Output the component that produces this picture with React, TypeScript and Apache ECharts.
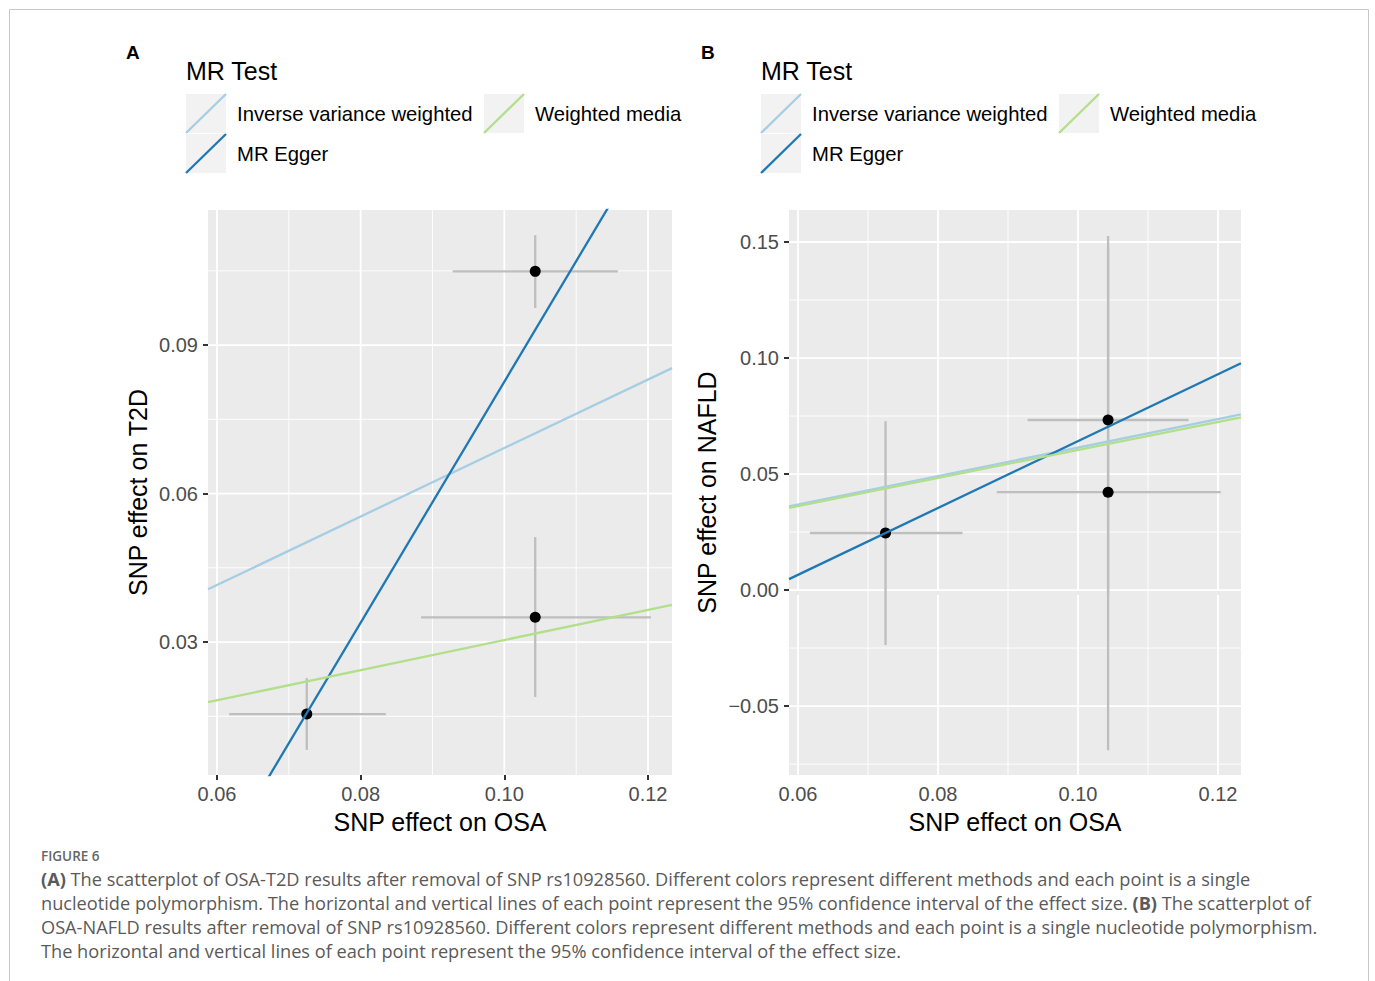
import React, { useEffect, useRef } from "react";
import * as echarts from "echarts";

// ---------- data ----------
const methods = ["Inverse variance weighted", "MR Egger", "Weighted median"];
const methodColors = ["#A6CEE3", "#1F78B4", "#B2DF8A"];

// SNP effects on the exposure (OSA) with 95% CI
const osaBeta = [0.0725, 0.1043, 0.1043];
const osaLo = [0.0617, 0.0928, 0.0884];
const osaHi = [0.0835, 0.1158, 0.1204];

// Panel A: SNP effects on T2D
const t2dBeta = [0.01545, 0.1049, 0.035];
const t2dLo = [0.0082, 0.0975, 0.0189];
const t2dHi = [0.0227, 0.1122, 0.0512];

// Panel B: SNP effects on NAFLD
const nafldBeta = [0.0246, 0.0733, 0.0422];
const nafldLo = [-0.0237, -0.002, -0.069];
const nafldHi = [0.0728, 0.148, 0.1526];

// MR estimates (slope, intercept) per method
const slopesA = [0.692, 2.435, 0.304];
const interceptsA = [0, -0.1609, 0];
const slopesB = [0.614, 1.441, 0.604];
const interceptsB = [0, -0.0799, 0];

// axis ticks
const xTicks = [0.06, 0.08, 0.1, 0.12];
const xMinor = [0.07, 0.09, 0.11];
const yTicksA = [0.03, 0.06, 0.09];
const yMinorA = [0.015, 0.045, 0.075, 0.105];
const yTicksB = [-0.05, 0, 0.05, 0.1, 0.15];
const yMinorB = [-0.075, -0.025, 0.025, 0.075, 0.125];

const xRangeA = [0.05875, 0.12334];
const yRangeA = [0.00313, 0.1173];
const xRangeB = [0.05871, 0.12329];
const yRangeB = [-0.0797, 0.1638];

const captionLines = [
  "{b|(A)} The scatterplot of OSA-T2D results after removal of SNP rs10928560. Different colors represent different methods and each point is a single",
  "nucleotide polymorphism. The horizontal and vertical lines of each point represent the 95% confidence interval of the effect size. {b|(B)} The scatterplot of",
  "OSA-NAFLD results after removal of SNP rs10928560. Different colors represent different methods and each point is a single nucleotide polymorphism.",
  "The horizontal and vertical lines of each point represent the 95% confidence interval of the effect size.",
];

const FONT = "'Liberation Sans', Arial, Helvetica, sans-serif";
const CAPFONT = "'Open Sans', Lato, sans-serif";

function fmt(v: number) {
  const s = Math.abs(v).toFixed(2);
  return v < -1e-9 ? "\u2212" + s : s;
}

function buildPanel(
  gi: number,
  xr: number[],
  yr: number[],
  yTicks: number[],
  yMinor: number[],
  yBeta: number[],
  yLo: number[],
  yHi: number[],
  slopes: number[],
  intercepts: number[]
) {
  const xMid = (xr[0] + xr[1]) / 2;
  const yMid = (yr[0] + yr[1]) / 2;
  const gridData: number[][] = [];
  xMinor.forEach((v) => gridData.push([v, yMid, 1]));
  yMinor.forEach((v) => gridData.push([xMid, v, 3]));
  xTicks.forEach((v) => gridData.push([v, yMid, 0]));
  yTicks.forEach((v) => gridData.push([xMid, v, 2]));

  const series: any[] = [];
  series.push({
    type: "custom",
    xAxisIndex: gi,
    yAxisIndex: gi,
    silent: true,
    z: 1,
    data: gridData,
    renderItem: (params: any, api: any) => {
      const cs = params.coordSys;
      const kind = api.value(2);
      const p = api.coord([api.value(0), api.value(1)]);
      const lw = kind === 0 || kind === 2 ? 1.8 : 0.9;
      if (kind < 2) {
        return {
          type: "line",
          shape: { x1: p[0], y1: cs.y, x2: p[0], y2: cs.y + cs.height },
          style: { stroke: "#FFFFFF", lineWidth: lw },
        };
      }
      return {
        type: "line",
        shape: { x1: cs.x, y1: p[1], x2: cs.x + cs.width, y2: p[1] },
        style: { stroke: "#FFFFFF", lineWidth: lw },
      };
    },
  });

  series.push({
    type: "custom",
    xAxisIndex: gi,
    yAxisIndex: gi,
    silent: true,
    z: 2,
    data: osaBeta.map((x, i) => [x, yBeta[i], osaLo[i], osaHi[i], yLo[i], yHi[i]]),
    renderItem: (params: any, api: any) => {
      const x = api.value(0);
      const y = api.value(1);
      const a = api.coord([api.value(2), y]);
      const b = api.coord([api.value(3), y]);
      const c = api.coord([x, api.value(4)]);
      const d = api.coord([x, api.value(5)]);
      const st = { stroke: "#BEBEBE", lineWidth: 2.3 };
      return {
        type: "group",
        children: [
          { type: "line", shape: { x1: a[0], y1: a[1], x2: b[0], y2: b[1] }, style: st },
          { type: "line", shape: { x1: c[0], y1: c[1], x2: d[0], y2: d[1] }, style: st },
        ],
      };
    },
  });

  series.push({
    type: "scatter",
    xAxisIndex: gi,
    yAxisIndex: gi,
    silent: true,
    z: 3,
    symbol: "circle",
    symbolSize: 11,
    itemStyle: { color: "#000000", opacity: 1 },
    data: osaBeta.map((x, i) => [x, yBeta[i]]),
  });

  methods.forEach((m, k) => {
    series.push({
      type: "line",
      name: m,
      xAxisIndex: gi,
      yAxisIndex: gi,
      silent: true,
      z: 4,
      clip: true,
      symbol: "none",
      showSymbol: false,
      lineStyle: { color: methodColors[k], width: 2.3 },
      data: [
        [xr[0], intercepts[k] + slopes[k] * xr[0]],
        [xr[1], intercepts[k] + slopes[k] * xr[1]],
      ],
    });
  });
  return series;
}

function legendGraphics(letter: string, dx: number, clipW: number) {
  const els: any[] = [];
  els.push({
    type: "text",
    x: 126 + dx,
    y: 52,
    style: { text: letter, font: `bold 19px ${FONT}`, fill: "#000", verticalAlign: "middle", align: "left" },
  });
  els.push({
    type: "text",
    x: 186 + dx,
    y: 71,
    style: { text: "MR Test", font: `25px ${FONT}`, fill: "#000", verticalAlign: "middle", align: "left" },
  });
  const keyPos = [
    [186, 94],
    [186, 134],
    [484, 94],
  ];
  methods.forEach((m, k) => {
    const kx = keyPos[k][0] + dx;
    const ky = keyPos[k][1];
    els.push({ type: "rect", shape: { x: kx, y: ky, width: 40, height: 39 }, style: { fill: "#F2F2F2" } });
    els.push({
      type: "line",
      shape: { x1: kx, y1: ky + 39, x2: kx + 40, y2: ky },
      style: { stroke: methodColors[k], lineWidth: 2.3 },
    });
    const textStyle: any = {
      text: m,
      font: `20.3px ${FONT}`,
      fill: "#000",
      verticalAlign: "middle",
      align: "left",
    };
    if (k === 2) {
      textStyle.width = clipW;
      textStyle.overflow = "truncate";
      textStyle.ellipsis = "";
    }
    els.push({ type: "text", x: kx + 51, y: ky + 20, style: textStyle });
  });
  return els;
}

function makeXAxis(gi: number, xr: number[]) {
  return {
    type: "value",
    gridIndex: gi,
    min: xr[0],
    max: xr[1],
    name: "SNP effect on OSA",
    nameLocation: "middle",
    nameGap: 34,
    nameTextStyle: { fontFamily: FONT, fontSize: 25, color: "#000" },
    axisLine: { show: false },
    splitLine: { show: false },
    axisTick: { show: true, customValues: xTicks, length: 5, lineStyle: { color: "#333333", width: 2 } },
    axisLabel: {
      customValues: xTicks,
      formatter: (v: number) => fmt(v),
      fontFamily: FONT,
      fontSize: 20,
      color: "#4D4D4D",
      margin: 9,
    },
  };
}

function makeYAxis(gi: number, yr: number[], ticks: number[], name: string, gap: number) {
  return {
    type: "value",
    gridIndex: gi,
    min: yr[0],
    max: yr[1],
    name,
    nameLocation: "middle",
    nameGap: gap,
    nameTextStyle: { fontFamily: FONT, fontSize: 25, color: "#000" },
    axisLine: { show: false },
    splitLine: { show: false },
    axisTick: { show: true, customValues: ticks, length: 5, lineStyle: { color: "#333333", width: 2 } },
    axisLabel: {
      customValues: ticks,
      formatter: (v: number) => fmt(v),
      fontFamily: FONT,
      fontSize: 20,
      color: "#4D4D4D",
      margin: 10,
    },
  };
}

export default function App() {
  const ref = useRef<HTMLDivElement>(null);
  useEffect(() => {
    document.body.style.margin = "0";
    const chart = echarts.init(ref.current!, null, { renderer: "svg" });
    const graphics: any[] = [];
    graphics.push({
      type: "polyline",
      shape: {
        points: [
          [9.5, 981],
          [9.5, 9.5],
          [1368.5, 9.5],
          [1368.5, 981],
        ],
      },
      style: { stroke: "#C8C8C8", lineWidth: 1, fill: "none" },
    });
    graphics.push(...legendGraphics("A", 0, 150));
    graphics.push(...legendGraphics("B", 575, 152));
    graphics.push({
      type: "text",
      x: 41,
      y: 856,
      style: {
        text: "FIGURE 6",
        font: `600 13.5px ${CAPFONT}`,
        fill: "#666666",
        verticalAlign: "middle",
        align: "left",
      },
    });
    captionLines.forEach((t, i) => {
      graphics.push({
        type: "text",
        x: 41,
        y: 879 + i * 24,
        style: {
          text: t,
          fontFamily: CAPFONT,
          fontSize: 18.2,
          fill: "#5A5A5A",
          verticalAlign: "middle",
          align: "left",
          rich: {
            b: { fontFamily: CAPFONT, fontSize: 18.2, fontWeight: "bold", fill: "#5A5A5A" },
          },
        },
      });
    });

    const option: any = {
      animation: false,
      backgroundColor: "#FFFFFF",
      textStyle: { fontFamily: FONT },
      grid: [
        { left: 208, top: 210, width: 464, height: 565, show: true, backgroundColor: "#EBEBEB", borderWidth: 0 },
        { left: 789, top: 210, width: 452, height: 565, show: true, backgroundColor: "#EBEBEB", borderWidth: 0 },
      ],
      xAxis: [makeXAxis(0, xRangeA), makeXAxis(1, xRangeB)],
      yAxis: [
        makeYAxis(0, yRangeA, yTicksA, "SNP effect on T2D", 58),
        makeYAxis(1, yRangeB, yTicksB, "SNP effect on NAFLD", 70),
      ],
      series: [
        ...buildPanel(0, xRangeA, yRangeA, yTicksA, yMinorA, t2dBeta, t2dLo, t2dHi, slopesA, interceptsA),
        ...buildPanel(1, xRangeB, yRangeB, yTicksB, yMinorB, nafldBeta, nafldLo, nafldHi, slopesB, interceptsB),
      ],
      graphic: graphics,
    };
    chart.setOption(option);
    return () => chart.dispose();
  }, []);
  return <div ref={ref} style={{ width: 1375, height: 981 }} />;
}
